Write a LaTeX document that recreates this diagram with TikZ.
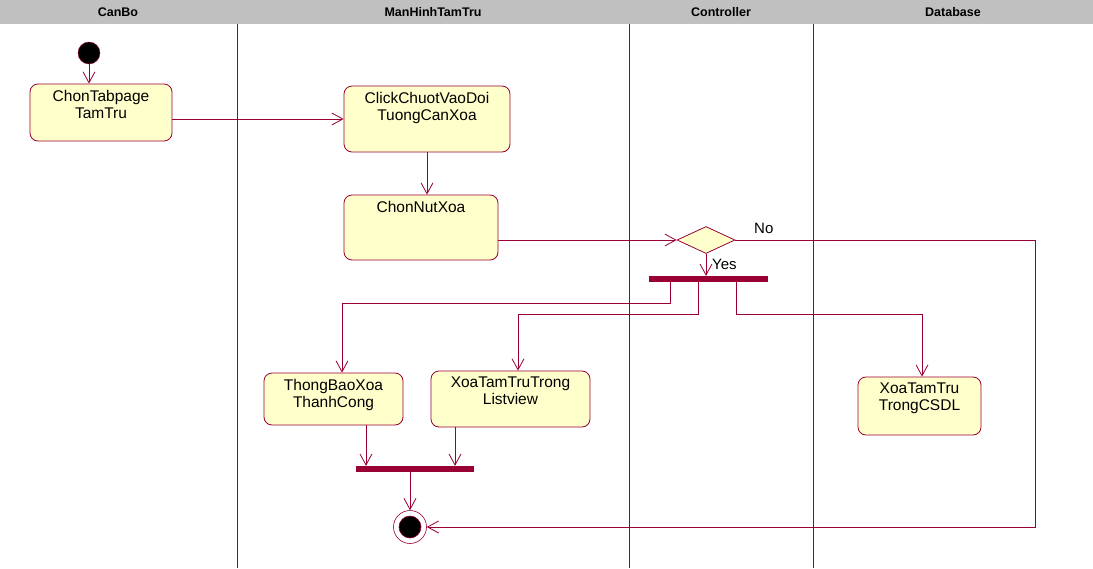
\documentclass[tikz,border=0pt]{standalone}
\usepackage{fontspec}
\setmainfont{Liberation Sans}
\usetikzlibrary{arrows.meta,shapes.geometric}
\definecolor{umlred}{HTML}{990033}
\definecolor{umlfill}{HTML}{FFFFCC}
\definecolor{hdrgray}{HTML}{C0C0C0}
\tikzset{
  actbox/.style={draw=umlred, fill=umlfill, rounded corners=8pt, inner sep=0pt, line width=0.8pt},
  acttext/.style={anchor=north, inner sep=0pt, align=center, font=\fontsize{15.5}{17.5}\selectfont, yshift=-6pt},
  hdr/.style={font=\fontsize{12.5}{14}\selectfont\bfseries, inner sep=0pt},
  lane/.style={draw=umlred, line width=0.8pt},
  flow/.style={draw=umlred, line width=0.8pt, -{Straight Barb[length=11pt,width=12pt,line width=0.8pt]}},
  bar/.style={fill=umlred, draw=none, inner sep=0pt},
  lbl/.style={font=\fontsize{15}{17}\selectfont, inner sep=0pt}
}
\begin{document}
\begin{tikzpicture}[x=1pt,y=-1pt]
\useasboundingbox (0,0) rectangle (1093,568);
\fill[white] (0,0) rectangle (1093,568);
% header
\fill[hdrgray] (0,0) rectangle (1093,24);
\node[hdr] (h1) at (118,12) {CanBo};
\node[hdr] (h2) at (433,12) {ManHinhTamTru};
\node[hdr] (h3) at (721,12) {Controller};
\node[hdr] (h4) at (953,12) {Database};
% lanes
\draw[lane] (237,24) -- (237,568);
\draw[lane] (629,24) -- (629,568);
\draw[lane] (813,24) -- (813,568);
% start
\node[circle, fill=black, draw=umlred, minimum size=22pt, inner sep=0pt] (start) at (89,53) {};
% boxes
\node[actbox, minimum width=142pt, minimum height=57pt] (b1) at (101,112.5) {};
\node[acttext] (t1) at (b1.north) {ChonTabpage\\TamTru};
\node[actbox, minimum width=166pt, minimum height=66pt] (b2) at (427,119) {};
\node[acttext] (t2) at (b2.north) {ClickChuotVaoDoi\\TuongCanXoa};
\node[actbox, minimum width=154pt, minimum height=65pt] (b3) at (421,227.5) {};
\node[acttext] (t3) at (b3.north) {ChonNutXoa};
\node[actbox, minimum width=139pt, minimum height=52pt] (tb) at (333.5,399) {};
\node[acttext] (t4) at (tb.north) {ThongBaoXoa\\ThanhCong};
\node[actbox, minimum width=159pt, minimum height=56pt] (xl) at (510.5,399) {};
\node[acttext] (t5) at (xl.north) {XoaTamTruTrong\\Listview};
\node[actbox, minimum width=123pt, minimum height=58pt] (xc) at (919.5,406) {};
\node[acttext] (t6) at (xc.north) {XoaTamTru\\TrongCSDL};
% decision
\node[diamond, draw=umlred, fill=umlfill, line width=0.8pt, minimum width=58pt, minimum height=27pt, inner sep=0pt] (d) at (706,240) {};
% bars
\node[bar, minimum width=119pt, minimum height=6pt] (fork) at (708.5,279) {};
\node[bar, minimum width=118pt, minimum height=6pt] (join) at (415,469) {};
% final
\node[circle, draw=umlred, fill=white, line width=0.6pt, minimum size=33pt, inner sep=0pt] (final) at (410,527) {};
\node[circle, draw=umlred, fill=black, line width=0.6pt, minimum size=22pt, inner sep=0pt] (finalin) at (final) {};
% flows
\draw[flow] (start) -- (start |- b1.north);
\draw[flow] (b1.east |- b2.west) -- (b2.west);
\draw[flow] (b2.south) -- (b2.south |- b3.north);
\draw[flow] (b3.east |- d.west) -- (d.west);
\draw[flow] (d.south) -- (d.south |- fork.north);
\node[lbl, anchor=west] (yes) at (712,264) {Yes};
\draw[flow] (d.east) -- ++(300,0) |- (final.east);
\node[lbl, anchor=west] (no) at (754,228) {No};
\draw[flow] ([xshift=-38.5pt]fork.south) -- ++(0,21) -| ([xshift=8.5pt]tb.north);
\draw[flow] ([xshift=-10.5pt]fork.south) -- ++(0,32) -| ([xshift=7.5pt]xl.north);
\draw[flow] ([xshift=27.5pt]fork.south) -- ++(0,32) -| ([xshift=2.5pt]xc.north);
\draw[flow] ([xshift=32.5pt]tb.south) -- ([xshift=32.5pt]tb.south |- join.north);
\draw[flow] ([xshift=-55.5pt]xl.south) -- ([xshift=-55.5pt]xl.south |- join.north);
\draw[flow] (final |- join.south) -- (final.north);
\end{tikzpicture}
\end{document}
